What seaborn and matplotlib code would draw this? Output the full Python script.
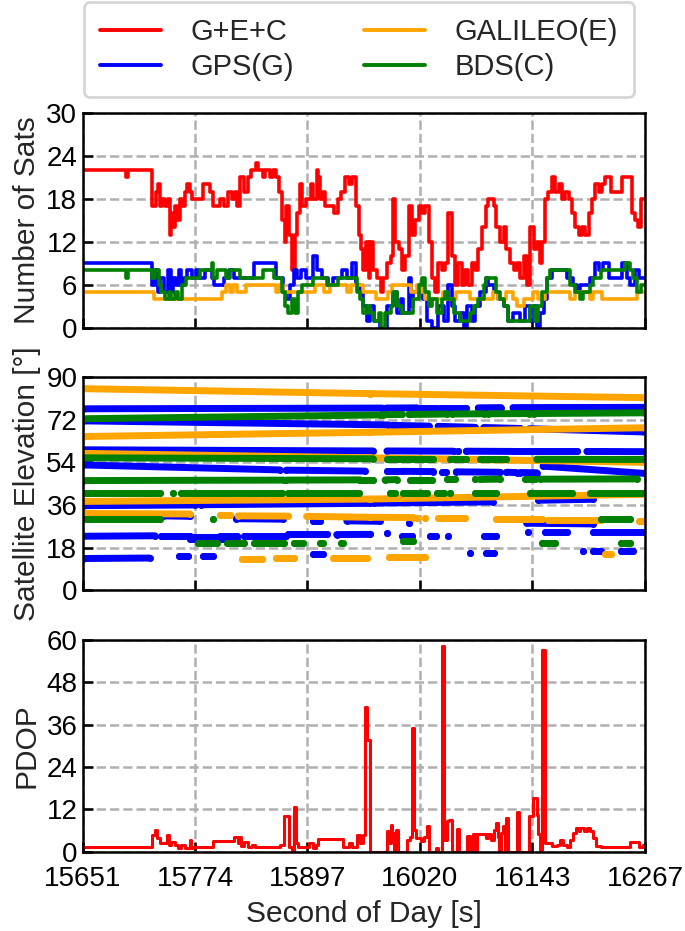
import numpy as np
import pandas as pd
import matplotlib
matplotlib.use("Agg")
import matplotlib.pyplot as plt
import seaborn as sns
from matplotlib.lines import Line2D

# ---------------- data ----------------
x_ticks = [15651, 15774, 15897, 16020, 16143, 16267]

# Number of satellites (time, value) step series
gec_t = [15651, 15698, 15700, 15727, 15731, 15733, 15735, 15738, 15741, 15744, 15746, 15748, 15750, 15752,
         15754, 15757, 15760, 15763, 15765, 15768, 15771, 15783, 15790, 15794, 15801, 15806, 15810, 15814,
         15818, 15820, 15823, 15828, 15832, 15835, 15841, 15843, 15848, 15851, 15856, 15859, 15863, 15866,
         15869, 15872, 15874, 15877, 15880, 15883, 15886, 15889, 15891, 15895, 15901, 15903, 15907, 15909,
         15911, 15914, 15916, 15926, 15930, 15934, 15938, 15942, 15946, 15950, 15953, 15956, 15958, 15961,
         15964, 15966, 15969, 15973, 15977, 15980, 15984, 15988, 15991, 15993, 15997, 16000, 16004, 16008,
         16011, 16015, 16019, 16022, 16026, 16030, 16033, 16037, 16040, 16044, 16048, 16051, 16055, 16059,
         16062, 16066, 16070, 16073, 16077, 16081, 16084, 16088, 16092, 16095, 16101, 16104, 16108, 16112,
         16115, 16119, 16123, 16126, 16130, 16134, 16137, 16141, 16145, 16148, 16152, 16154, 16157, 16161,
         16165, 16168, 16172, 16176, 16179, 16183, 16187, 16190, 16194, 16198, 16201, 16205, 16209, 16212,
         16216, 16220, 16223, 16230, 16238, 16241, 16249, 16252, 16256, 16259, 16262, 16267]
gec_n = [22, 21, 22, 17, 19, 20, 17, 18, 17, 18, 13, 16, 14, 17,
         15, 18, 17, 19, 20, 19, 18, 20, 19, 17, 18, 17, 19, 18,
         19, 17, 21, 19, 21, 22, 23, 22, 21, 22, 21, 22, 21, 19,
         15, 12, 17, 13, 8, 13, 16, 20, 17, 18, 20, 18, 22, 21,
         18, 19, 17, 16, 18, 19, 21, 20, 21, 17, 13, 11, 8, 12,
         7, 12, 8, 7, 5, 7, 9, 10, 18, 12, 11, 8, 10, 17,
         13, 15, 17, 16, 17, 12, 7, 5, 9, 8, 9, 16, 10, 6,
         9, 6, 8, 6, 9, 8, 11, 14, 17, 18, 17, 14, 12, 14,
         11, 9, 8, 9, 7, 10, 6, 14, 11, 12, 9, 12, 18, 19,
         21, 19, 20, 18, 19, 18, 16, 14, 13, 14, 13, 16, 18, 20,
         19, 20, 21, 19, 19, 21, 21, 16, 15, 14, 18, 18]

gps_t = [15651, 15727, 15730, 15733, 15736, 15740, 15744, 15747, 15750, 15753, 15756, 15759, 15762, 15765,
         15770, 15775, 15778, 15785, 15792, 15795, 15806, 15811, 15817, 15838, 15863, 15870, 15873, 15878,
         15882, 15885, 15890, 15895, 15903, 15907, 15913, 15920, 15925, 15935, 15940, 15946, 15950, 15954,
         15958, 15962, 15966, 15970, 15976, 15984, 15991, 15995, 15999, 16002, 16008, 16010, 16013, 16019,
         16024, 16028, 16033, 16040, 16046, 16051, 16055, 16059, 16064, 16068, 16072, 16077, 16081, 16086,
         16092, 16095, 16101, 16106, 16112, 16117, 16122, 16130, 16135, 16141, 16145, 16148, 16152, 16156,
         16159, 16165, 16181, 16188, 16192, 16196, 16206, 16212, 16216, 16221, 16227, 16241, 16247, 16250,
         16256, 16260, 16267]
gps_n = [9, 6, 8, 5, 7, 5, 8, 5, 7, 6, 8, 6, 7, 8,
         7, 8, 7, 8, 7, 6, 7, 8, 7, 9, 7, 5, 4, 6,
         8, 7, 8, 7, 10, 8, 7, 6, 7, 8, 7, 9, 6, 5,
         3, 1, 3, 1, 0, 3, 5, 2, 4, 2, 7, 3, 5, 6,
         4, 1, 0, 3, 1, 6, 3, 1, 2, 0, 3, 1, 3, 5,
         7, 6, 5, 4, 3, 1, 2, 1, 3, 1, 3, 0, 2, 4,
         7, 8, 7, 6, 5, 6, 7, 9, 8, 9, 7, 9, 7, 6,
         8, 7, 7]

gal_t = [15651, 15729, 15803, 15808, 15812, 15815, 15820, 15830, 15862, 15866, 15870, 15905, 15915, 15922,
         15940, 15945, 15958, 15972, 15985, 15990, 16010, 16017, 16022, 16026, 16045, 16050, 16060, 16075,
         16100, 16106, 16115, 16122, 16126, 16134, 16144, 16150, 16157, 16185, 16190, 16206, 16210, 16220,
         16258, 16267]
gal_n = [5, 4, 5, 6, 5, 6, 5, 6, 5, 6, 5, 6, 5, 6,
         5, 6, 5, 4, 5, 6, 5, 6, 5, 4, 5, 4, 5, 4,
         5, 4, 5, 4, 3, 4, 5, 4, 5, 4, 5, 4, 5, 4,
         5, 5]

bds_t = [15651, 15698, 15700, 15727, 15730, 15734, 15737, 15741, 15745, 15748, 15752, 15755, 15760, 15764,
         15779, 15792, 15794, 15798, 15808, 15812, 15823, 15848, 15860, 15869, 15872, 15876, 15880, 15883,
         15887, 15891, 15903, 15918, 15930, 15951, 15955, 15958, 15962, 15966, 15970, 15975, 15977, 15982,
         15988, 15991, 15995, 16000, 16013, 16019, 16022, 16026, 16030, 16033, 16039, 16044, 16048, 16051,
         16057, 16064, 16075, 16079, 16084, 16090, 16093, 16104, 16108, 16112, 16117, 16141, 16146, 16150,
         16154, 16159, 16163, 16185, 16190, 16196, 16199, 16207, 16210, 16218, 16245, 16250, 16254, 16258,
         16262, 16267]
bds_n = [8, 7, 8, 7, 8, 6, 5, 4, 5, 4, 5, 4, 6, 7,
         8, 9, 7, 8, 7, 8, 7, 8, 7, 5, 3, 2, 4, 2,
         5, 6, 7, 6, 7, 5, 4, 2, 3, 2, 1, 2, 0, 2,
         3, 5, 3, 2, 4, 6, 7, 5, 3, 4, 2, 4, 5, 4,
         2, 1, 2, 3, 4, 6, 7, 5, 4, 3, 1, 3, 1, 3,
         5, 7, 8, 6, 5, 4, 5, 6, 7, 8, 9, 8, 7, 5,
         6, 6]

# Satellite elevation arcs: (start s, end s, elev at start deg, elev at end deg)
gps_arcs = [
    (15651, 15979, 76.6, 76.9), (15983, 16017, 76.9, 77.0), (16021, 16038, 77.0, 77.0),
    (16042, 16071, 77.0, 77.0), (16084, 16109, 77.0, 77.1), (16122, 16267, 77.1, 77.2),
    (15651, 15985, 71.5, 69.8), (15990, 16030, 69.6, 69.3), (16040, 16080, 69.2, 68.8),
    (16090, 16130, 68.7, 68.3), (16140, 16267, 68.2, 66.8),
    (15651, 15969, 59.3, 58.8), (15984, 16057, 58.8, 58.7), (16062, 16062, 58.7, 58.7),
    (16071, 16123, 58.7, 58.6), (16126, 16192, 58.6, 58.6), (16203, 16267, 58.6, 58.5),
    (15651, 15867, 52.9, 50.8), (15874, 15960, 50.7, 50.3), (15984, 15996, 50.2, 50.2),
    (16000, 16035, 50.2, 50.1), (16044, 16049, 50.1, 50.1), (16060, 16108, 50.0, 49.8),
    (16115, 16126, 49.8, 49.7), (16130, 16148, 49.7, 49.6), (16155, 16267, 52.4, 49.3),
    (15651, 15774, 35.7, 36.0), (15780, 15966, 36.1, 36.7), (15970, 16100, 36.8, 37.3),
    (16150, 16210, 38.0, 38.4),
    (15739, 15768, 31.4, 31.2), (15819, 15870, 30.2, 30.0), (15903, 15911, 29.3, 29.3),
    (15940, 15976, 29.3, 29.1), (16008, 16008, 28.6, 28.6), (16137, 16210, 28.3, 28.0),
    (15651, 15730, 22.8, 23.0), (15737, 15768, 23.0, 23.0), (15768, 15798, 22.5, 22.5),
    (15801, 15820, 23.0, 23.0), (15827, 15874, 23.0, 23.0), (15876, 15918, 23.7, 23.7),
    (15929, 15966, 23.5, 23.6), (15984, 15984, 24.1, 24.1), (16000, 16011, 22.7, 22.7),
    (16031, 16038, 22.7, 22.7), (16051, 16051, 22.7, 22.7), (16090, 16103, 23.0, 23.0),
    (16139, 16139, 24.8, 24.8), (16157, 16181, 24.5, 24.5), (16210, 16265, 24.5, 24.5),
    (15768, 15820, 21.5, 21.5),
    (15651, 15724, 13.4, 13.6), (15756, 15766, 14.5, 14.5), (15783, 15794, 14.5, 14.5),
    (15903, 15914, 15.2, 15.2), (16075, 16075, 15.9, 15.9), (16092, 16101, 15.9, 15.9),
    (16199, 16199, 16.6, 16.6), (16210, 16218, 16.6, 16.6), (16240, 16254, 16.6, 16.6),
]
gal_arcs = [
    (15651, 15966, 85.1, 83.0), (15966, 16267, 83.0, 81.3),
    (15651, 15966, 64.9, 66.7), (15966, 16267, 66.7, 68.6),
    (15651, 15966, 57.8, 55.9), (15966, 16267, 55.9, 54.0),
    (15651, 15966, 37.5, 38.5), (15966, 16267, 38.5, 40.5),
    (15651, 15768, 32.4, 32.2), (15801, 15812, 31.7, 31.7), (15821, 15876, 31.4, 31.3),
    (15896, 15966, 31.2, 30.8), (15966, 16013, 30.8, 30.7), (16017, 16017, 30.7, 30.7),
    (16026, 16026, 30.6, 30.6), (16040, 16070, 30.4, 30.4), (16104, 16154, 30.0, 30.0),
    (16161, 16218, 29.6, 29.6), (16260, 16265, 29.3, 29.3),
    (15825, 15847, 13.1, 13.1), (15863, 15882, 13.5, 13.5), (15925, 15962, 13.8, 13.8),
    (15986, 16026, 14.2, 14.2), (16223, 16230, 15.2, 15.2),
]
bds_arcs = [
    (15651, 15976, 72.4, 74.0), (15980, 16000, 74.1, 74.2), (16008, 16050, 74.2, 74.4),
    (16055, 16090, 74.4, 74.5), (16095, 16140, 74.5, 74.6), (16145, 16267, 74.6, 74.9),
    (15651, 15969, 55.9, 55.5), (15984, 16035, 55.5, 55.5), (16053, 16071, 55.4, 55.4),
    (16086, 16115, 55.4, 55.4), (16148, 16267, 55.3, 55.2),
    (15651, 15871, 46.3, 46.5), (15874, 15955, 46.5, 46.6), (15955, 15969, 46.6, 46.6),
    (15982, 15995, 46.6, 46.7), (16009, 16033, 46.7, 46.7), (16050, 16059, 46.8, 46.8),
    (16081, 16081, 46.8, 46.8), (16086, 16108, 46.8, 46.9), (16135, 16146, 46.9, 46.9),
    (16152, 16258, 46.9, 47.0),
    (15651, 15735, 41.0, 41.0), (15750, 15750, 41.0, 41.0), (15759, 15869, 41.0, 41.0),
    (15876, 15953, 41.0, 41.0), (15987, 15993, 41.0, 41.0), (16002, 16028, 41.0, 41.0),
    (16039, 16046, 41.0, 41.0), (16053, 16053, 41.0, 41.0), (16081, 16104, 41.0, 41.0),
    (16141, 16187, 41.0, 41.0), (16207, 16265, 40.9, 40.9),
    (15651, 15735, 30.0, 30.0), (15794, 15794, 30.0, 30.0), (16218, 16250, 30.0, 30.0),
    (15777, 15798, 20.1, 20.1), (15809, 15827, 20.1, 20.1), (15838, 15871, 20.1, 20.1),
    (15882, 15892, 20.1, 20.1), (15911, 15914, 20.1, 20.1), (15934, 15936, 20.1, 20.1),
    (16002, 16013, 20.6, 20.6), (16154, 16168, 20.1, 20.1), (16240, 16250, 20.1, 20.1),
]

# PDOP (time, value)
pdop_t = [15651, 15727, 15730, 15732, 15735, 15743, 15745, 15748, 15752, 15755, 15759, 15763, 15768, 15769,
          15772, 15793, 15816, 15821, 15822, 15824, 15828, 15832, 15836, 15839, 15867, 15871, 15877, 15880,
          15882, 15884, 15887, 15899, 15903, 15906, 15909, 15936, 15942, 15946, 15951, 15955, 15958, 15960,
          15962, 15965, 15984, 15986, 15989, 15990, 15992, 15994, 15996, 16006, 16009, 16011, 16012, 16014,
          16016, 16021, 16025, 16028, 16030, 16038, 16040, 16044, 16047, 16050, 16052, 16055, 16061, 16063,
          16072, 16075, 16078, 16080, 16083, 16092, 16095, 16098, 16101, 16104, 16106, 16107, 16109, 16111,
          16113, 16115, 16117, 16127, 16129, 16140, 16144, 16148, 16150, 16152, 16154, 16157, 16165, 16170,
          16174, 16177, 16181, 16185, 16188, 16191, 16194, 16196, 16200, 16203, 16207, 16210, 16213, 16218,
          16250, 16260, 16264, 16267]
pdop_v = [1.3, 4.8, 6.2, 4.0, 2.5, 4.8, 2.0, 2.9, 2.0, 1.0, 2.0, 1.0, 3.4, 1.0,
          1.5, 3.2, 4.2, 2.5, 4.2, 1.7, 2.9, 1.3, 2.0, 1.3, 2.0, 10.0, 1.5, 0.2,
          12.8, 2.5, 1.5, 2.5, 1.0, 2.0, 3.6, 1.5, 2.5, 1.5, 4.8, 2.5, 4.8, 41.0,
          31.7, 0.0, 5.8, 2.5, 7.6, 5.3, 0.0, 6.2, 0.0, 3.4, 4.3, 5.8, 35.0, 6.2,
          3.9, 3.2, 4.3, 7.2, 0.0, 1.0, 0.0, 58.3, 3.4, 8.6, 9.0, 0.0, 6.4, 0.0,
          4.5, 0.0, 5.1, 0.0, 5.1, 3.9, 5.1, 3.4, 6.2, 8.1, 4.3, 0.0, 5.3, 7.2,
          0.0, 9.5, 0.0, 11.4, 0.0, 10.0, 15.2, 10.5, 5.0, 0.5, 57.2, 2.5, 1.7, 2.0,
          3.4, 2.0, 1.5, 3.4, 5.3, 6.7, 5.8, 6.7, 5.8, 6.7, 5.8, 3.9, 1.7, 1.5,
          2.9, 1.3, 2.0, 2.0]

labels = ["G+E+C", "GPS(G)", "GALILEO(E)", "BDS(C)"]
colors = {"G+E+C": "#ff0000", "GPS(G)": "#0000ff", "GALILEO(E)": "#ffa500", "BDS(C)": "#008000"}

# ---------------- style ----------------
sns.set_style("white")
plt.rcParams["font.family"] = ["Liberation Sans", "DejaVu Sans"]
plt.rcParams["axes.linewidth"] = 1.8

fig = plt.figure(figsize=(6.85, 9.31), dpi=100)
L, R = 0.121, 0.942
ax1 = fig.add_axes([L, 0.648, R - L, 0.231])
ax2 = fig.add_axes([L, 0.366, R - L, 0.229], sharex=ax1)
ax3 = fig.add_axes([L, 0.085, R - L, 0.228], sharex=ax1)

# panel 1
series = [("G+E+C", gec_t, gec_n), ("GPS(G)", gps_t, gps_n),
          ("GALILEO(E)", gal_t, gal_n), ("BDS(C)", bds_t, bds_n)]
for name, t, n in series:
    sns.lineplot(x=t, y=n, ax=ax1, color=colors[name], lw=2.6, drawstyle="steps-post",
                 sort=False, legend=False)

# panel 2
rows = []
seg = 0
for sysname, arcs in [("GPS(G)", gps_arcs), ("GALILEO(E)", gal_arcs), ("BDS(C)", bds_arcs)]:
    for (t0, t1, e0, e1) in arcs:
        rows.append((sysname, seg, t0, e0))
        rows.append((sysname, seg, t1, e1))
        seg += 1
df_el = pd.DataFrame(rows, columns=["sys", "seg", "t", "el"])
sns.lineplot(data=df_el, x="t", y="el", hue="sys", units="seg", estimator=None,
             hue_order=["GPS(G)", "GALILEO(E)", "BDS(C)"], palette=colors, ax=ax2,
             lw=5.0, marker="o", ms=5.0, mew=0, solid_capstyle="round", sort=False, legend=False)

# panel 3
sns.lineplot(x=pdop_t, y=pdop_v, ax=ax3, color="#ff0000", lw=2.2, drawstyle="steps-post",
             sort=False, legend=False)

ylims = [(0, 30, 6), (0, 90, 18), (0, 60, 12)]
ylabels = ["Number of Sats", "Satellite Elevation [°]", "PDOP"]
for ax, (lo, hi, st), yl in zip([ax1, ax2, ax3], ylims, ylabels):
    ax.set_ylim(lo, hi)
    ax.set_yticks(np.arange(lo, hi + 1, st))
    ax.set_xlim(x_ticks[0], x_ticks[-1])
    ax.set_xticks(x_ticks)
    ax.grid(True, color="#b0b0b0", ls="--", lw=1.8)
    ax.set_axisbelow(True)
    ax.tick_params(direction="in", length=7, width=1.8, labelsize=20, colors="black",
                   left=True, bottom=True, top=False, right=False)
    ax.tick_params(axis="y", pad=4)
    ax.tick_params(axis="x", pad=10)
    for s in ax.spines.values():
        s.set_color("black")
        s.set_linewidth(1.8)
    ax.set_ylabel(yl, fontsize=21.5, labelpad=4)
    ax.set_xlabel("")
for ax in [ax1, ax2]:
    ax.tick_params(labelbottom=False)
ax3.set_xticklabels([str(v) for v in x_ticks])
ax3.set_xlabel("Second of Day [s]", fontsize=21.5, labelpad=6)
fig.align_ylabels([ax1, ax2, ax3])

handles = [Line2D([], [], color=colors[l], lw=2.8) for l in labels]
leg = fig.legend(handles, labels, loc="upper center", bbox_to_anchor=(0.524, 0.998), ncol=2,
                 fontsize=21, frameon=True, fancybox=True, edgecolor="#cccccc",
                 handlelength=2.1, handletextpad=1.0, columnspacing=2.4, labelspacing=0.25,
                 borderpad=0.55, borderaxespad=0.0)
leg.get_frame().set_linewidth(2.0)

fig.savefig("out.png", dpi=100)
